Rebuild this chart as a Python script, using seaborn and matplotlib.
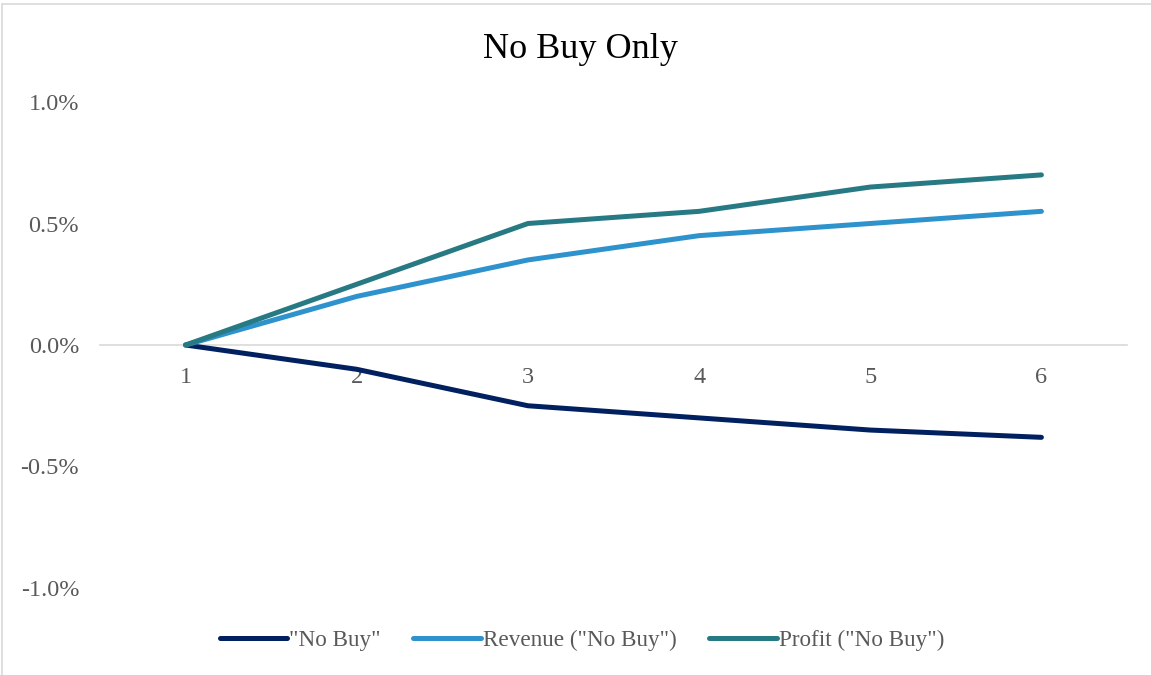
import matplotlib
matplotlib.use("Agg")
import matplotlib.pyplot as plt
from matplotlib.lines import Line2D
from matplotlib.ticker import FuncFormatter
import seaborn as sns
import pandas as pd

# Periods and series values (share of baseline, in %)
periods = [1, 2, 3, 4, 5, 6]
no_buy = [0.0, -0.10, -0.25, -0.30, -0.35, -0.38]
revenue_no_buy = [0.0, 0.20, 0.35, 0.45, 0.50, 0.55]
profit_no_buy = [0.0, 0.25, 0.50, 0.55, 0.65, 0.70]
series_names = ['"No Buy"', 'Revenue ("No Buy")', 'Profit ("No Buy")']
series_colors = ["#002060", "#2E93CD", "#277A83"]
y_ticks = [-1.0, -0.5, 0.0, 0.5, 1.0]
title = "No Buy Only"

df = pd.DataFrame({
    "period": periods * 3,
    "value": no_buy + revenue_no_buy + profit_no_buy,
    "series": [series_names[0]] * 6 + [series_names[1]] * 6 + [series_names[2]] * 6,
})

sns.set_theme(style="white")
plt.rcParams["font.family"] = ["Liberation Serif", "DejaVu Serif"]

fig = plt.figure(figsize=(11.51, 6.75), dpi=100)
ax = fig.add_axes([100 / 1151, 1 - 588 / 675, (1127 - 100) / 1151, (588 - 102) / 675])

sns.lineplot(
    data=df, x="period", y="value", hue="series",
    palette=dict(zip(series_names, series_colors)),
    linewidth=3.6, ax=ax, legend=False, sort=False,
)
for ln in ax.get_lines():
    ln.set_solid_capstyle("round")
    ln.set_solid_joinstyle("round")

ax.set_xlim(0.5, 6.5)
ax.set_ylim(-1.0, 1.0)
ax.set_xticks(periods)
ax.set_xticklabels([str(p) for p in periods])
ax.set_yticks(y_ticks)
ax.yaxis.set_major_formatter(FuncFormatter(lambda v, _: f"{v:.1f}%"))
ax.set_xlabel("")
ax.set_ylabel("")

for side in ["top", "right", "left"]:
    ax.spines[side].set_visible(False)
ax.spines["bottom"].set_position(("data", 0))
ax.spines["bottom"].set_color("#D9D9D9")
ax.spines["bottom"].set_linewidth(1.2)
ax.spines["bottom"].set_zorder(0)
ax.grid(False)
ax.tick_params(axis="x", length=0, pad=16, labelsize=17.5, labelcolor="#595959")
ax.tick_params(axis="y", length=0, pad=15, labelsize=17.5, labelcolor="#595959")

fig.text(580 / 1151, 1 - 49 / 675, title, ha="center", va="center",
         fontsize=26, color="black")

handles = [Line2D([0], [0], color=c, lw=3.6, solid_capstyle="round") for c in series_colors]
fig.legend(handles, series_names, loc="center", bbox_to_anchor=(582 / 1151, 1 - 640 / 675),
           ncol=3, frameon=False, fontsize=16.7, handlelength=2.9, handletextpad=0.1,
           columnspacing=1.4, labelcolor="#595959")

# Chart-area border
fig.add_artist(Line2D([2 / 1151, 2 / 1151], [0, 1 - 4 / 675], color="#D9D9D9", lw=1.2,
                      transform=fig.transFigure))
fig.add_artist(Line2D([2 / 1151, 1], [1 - 4 / 675, 1 - 4 / 675], color="#D9D9D9", lw=1.2,
                      transform=fig.transFigure))

fig.savefig("out.png", dpi=100, facecolor="white")
